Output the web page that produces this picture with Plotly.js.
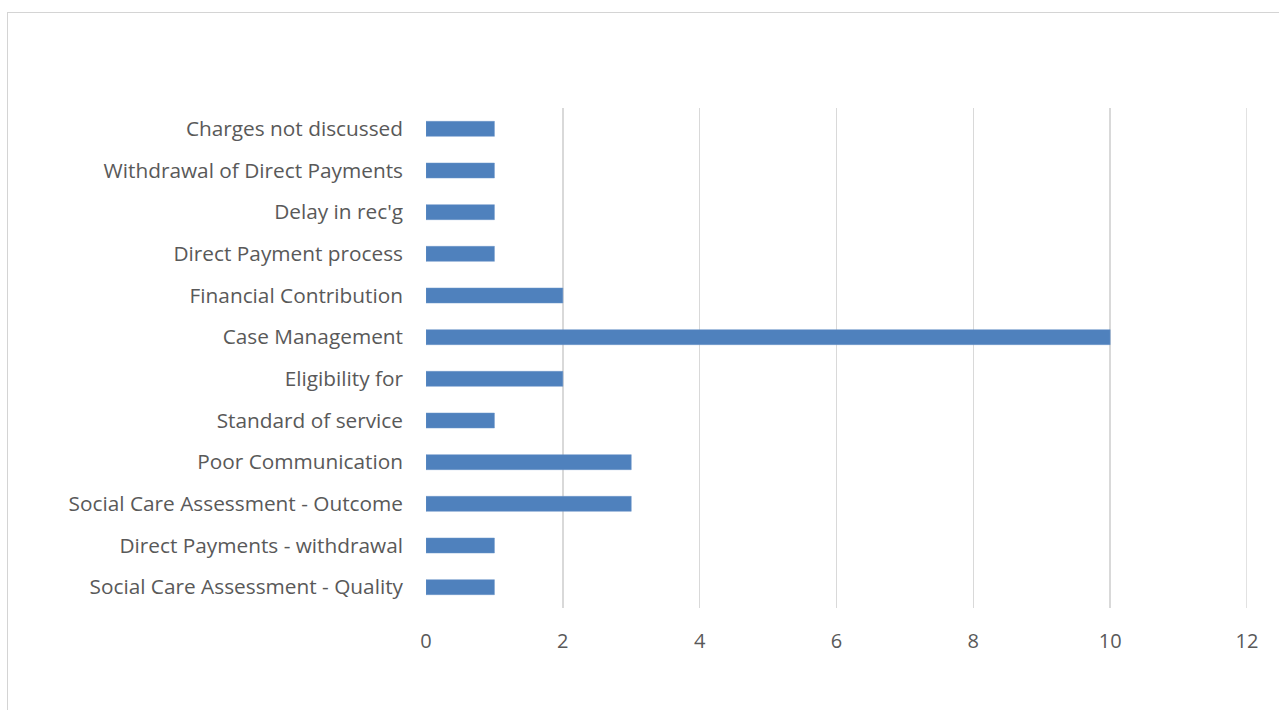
<!DOCTYPE html>
<html>
<head>
<meta charset="utf-8">
<script src="https://cdn.plot.ly/plotly-3.0.1.min.js"></script>
<style>
  html, body { margin: 0; padding: 0; background: #ffffff; overflow: hidden; }
  #frame { position: absolute; left: 7px; top: 12px; width: 1300px; height: 720px; border: 1px solid #d4d4d4; box-sizing: border-box; }
  #chart { position: absolute; left: 0; top: 0; width: 1279px; height: 710px; }
</style>
</head>
<body>
<div id="frame"></div>
<div id="chart"></div>
<script>
const categories = [
  "Social Care Assessment - Quality",
  "Direct Payments - withdrawal",
  "Social Care Assessment - Outcome",
  "Poor Communication",
  "Standard of service",
  "Eligibility for",
  "Case Management",
  "Financial Contribution",
  "Direct Payment process",
  "Delay in rec'g",
  "Withdrawal of Direct Payments",
  "Charges not discussed"
];
const counts = [1, 1, 3, 3, 1, 2, 10, 2, 1, 1, 1, 1];
const xTicks = [0, 2, 4, 6, 8, 10, 12];
const xMax = 12;

const fontFam = "Open Sans, sans-serif";
const trace = {
  type: 'bar',
  orientation: 'h',
  x: counts,
  y: categories,
  width: 0.36,
  marker: { color: '#4f81bd', line: { color: '#6a95c8', width: 0.5 } },
  hoverinfo: 'x+y'
};
const layout = {
  width: 1279,
  height: 710,
  paper_bgcolor: 'rgba(0,0,0,0)',
  plot_bgcolor: 'rgba(0,0,0,0)',
  margin: { l: 426, r: 32, t: 108, b: 102 },
  showlegend: false,
  font: { family: fontFam, size: 20.8, color: '#595959' },
  xaxis: {
    range: [0, xMax],
    tickvals: xTicks,
    ticktext: xTicks.map(String),
    showgrid: true,
    gridcolor: '#d9d9d9',
    gridwidth: 1.5,
    zeroline: false,
    showline: false,
    ticks: '',
    ticklabelstandoff: 19,
    tickfont: { family: fontFam, size: 20, color: '#595959' }
  },
  yaxis: {
    type: 'category',
    categoryorder: 'array',
    categoryarray: categories,
    showgrid: false,
    zeroline: false,
    showline: false,
    ticks: '',
    ticklabelstandoff: 22,
    tickfont: { family: fontFam, size: 20.8, color: '#595959' }
  },
  shapes: [{
    type: 'line', layer: 'below',
    xref: 'x', yref: 'paper',
    x0: xMax, x1: xMax, y0: 0, y1: 1,
    line: { color: '#d9d9d9', width: 1.5 }
  }]
};
Plotly.newPlot('chart', [trace], layout, { displayModeBar: false, staticPlot: true });
</script>
</body>
</html>
